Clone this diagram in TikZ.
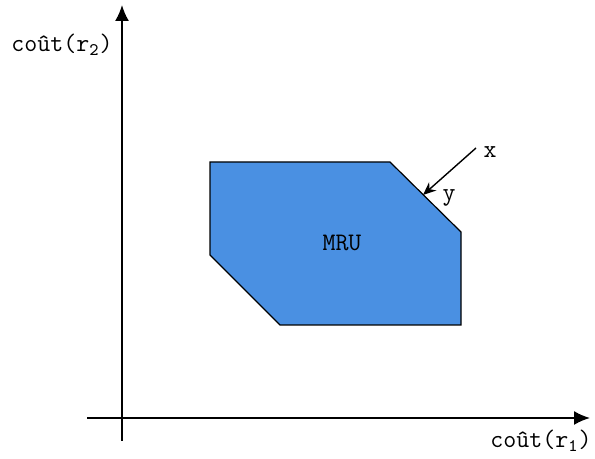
\documentclass[tikz,border=0pt]{standalone}
\usepackage{fontspec}
\usetikzlibrary{arrows.meta}
\definecolor{mrublue}{HTML}{4A90E2}
\begin{document}
\begin{tikzpicture}[x=0.5pt,y=-0.5pt,
  axis/.style={line width=0.9pt,-{Latex[length=8pt,width=7pt]}},
  lbl/.style={font=\fontsize{12.6}{15}\selectfont\ttfamily,inner sep=0pt},
  region/.style={draw=black,line width=0.6pt,fill=mrublue},
  pointer/.style={line width=0.7pt,-{Stealth[length=6.5pt,width=5.5pt]}}]
\useasboundingbox (0,0) rectangle (595,459);
\coordinate (ho) at (87,418);
\coordinate (he) at (590,418);
\coordinate (vo) at (122,441);
\coordinate (ve) at (122,5);
\draw[axis] (ho) -- (he);
\draw[axis] (vo) -- (ve);
\coordinate (p1) at (210,162);
\coordinate (p2) at (390,162);
\coordinate (p3) at (461,232);
\coordinate (p4) at (461,325);
\coordinate (p5) at (280,325);
\coordinate (p6) at (210,255);
\draw[region] (p1) -- (p2) -- (p3) -- (p4) -- (p5) -- (p6) -- cycle;
\node[lbl] (mru) at (342,243) {MRU};
\coordinate (xs) at (476,148);
\coordinate (xe) at (423,195);
\draw[pointer] (xs) -- (xe);
\node[lbl] (xl) at (490,152) {x};
\node[lbl] (yl) at (449,198) {y};
\node[lbl] (ly) at (62,45) {coût(r\textsubscript{2})};
\node[lbl] (lx) at (541,441) {coût(r\textsubscript{1})};
\end{tikzpicture}
\end{document}
